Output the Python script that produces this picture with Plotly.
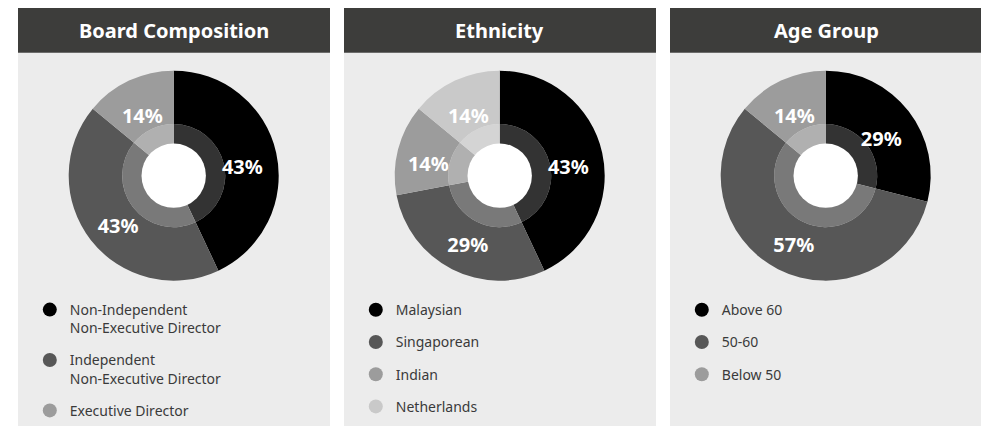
import plotly.graph_objects as go

W, H = 981, 426

# ---------------- data ----------------
titles = ["Board Composition", "Ethnicity", "Age Group"]

board_labels = ["Non-Independent<br>Non-Executive Director",
                "Independent<br>Non-Executive Director",
                "Executive Director"]
board_values = [43, 43, 14]

eth_labels = ["Malaysian", "Singaporean", "Indian", "Netherlands"]
eth_values = [43, 29, 14, 14]

age_labels = ["Above 60", "50-60", "Below 50"]
age_values = [29, 57, 14]

# ---------------- style ----------------
slice_colors = ["#000000", "#575757", "#9c9c9c", "#c9c9c9"]
header_color = "#3d3d3b"
body_color = "#ececec"
font_family = "Noto Sans"


def lighten(hexc, f=0.2):
    h = hexc.lstrip("#")
    r, g, b = (int(h[i:i + 2], 16) for i in (0, 2, 4))
    r, g, b = (round(c + f * (255 - c)) for c in (r, g, b))
    return "#%02x%02x%02x" % (r, g, b)


panels = [(board_labels, board_values), (eth_labels, eth_values), (age_labels, age_values)]
panel_lefts = [18, 344, 670]
panel_w = 312
header_top, header_bot = 8, 53.3
donut_dx, donut_cy = 155.7, 177.3
R_out, R_ring, R_hole = 106, 52, 32.5
label_hole = 0.34          # places slice labels at r ~ 71 px, as in the reference
label_dy = 6.5             # labels sit slightly low in the reference
legend_top = 297


def px(x):
    return x / W


def py(y):
    return 1 - y / H


def dom(cx, cy, r):
    return dict(x=[px(cx - r), px(cx + r)], y=[py(cy + r), py(cy - r)])


fig = go.Figure()
shapes = []
annotations = []
layout_legends = {}

for i, ((labels, values), left) in enumerate(zip(panels, panel_lefts)):
    cx = left + donut_dx
    cy = donut_cy
    cols = slice_colors[:len(values)]
    inner_cols = [lighten(c) for c in cols]

    shapes.append(dict(type="rect", xref="paper", yref="paper", layer="below",
                       x0=px(left), x1=px(left + panel_w), y0=py(H + 5), y1=py(header_bot),
                       fillcolor=body_color, line=dict(width=0)))
    shapes.append(dict(type="rect", xref="paper", yref="paper", layer="below",
                       x0=px(left), x1=px(left + panel_w), y0=py(header_bot), y1=py(header_top),
                       fillcolor=header_color, line=dict(width=0)))
    annotations.append(dict(text="<b>%s</b>" % titles[i], xref="paper", yref="paper",
                            x=px(left + panel_w / 2), y=py((header_top + header_bot) / 2),
                            xanchor="center", yanchor="middle", showarrow=False,
                            font=dict(family=font_family, size=20, color="white")))

    common = dict(values=values, labels=labels, sort=False, direction="clockwise",
                  rotation=0, showlegend=False)
    # inner lighter ring
    fig.add_trace(go.Pie(**common, hole=0, domain=dom(cx, cy, R_ring),
                         marker=dict(colors=inner_cols, line=dict(width=0)),
                         textinfo="none", hoverinfo="skip"))
    # white centre
    fig.add_trace(go.Pie(values=[1], labels=["centre"], sort=False, hole=0,
                         domain=dom(cx, cy, R_hole),
                         marker=dict(colors=["#ffffff"], line=dict(width=0)),
                         textinfo="none", hoverinfo="skip", showlegend=False))
    # outer ring
    fig.add_trace(go.Pie(**common, hole=R_ring / R_out, domain=dom(cx, cy, R_out),
                         marker=dict(colors=cols, line=dict(width=0)),
                         textinfo="none", hoverinfo="label+value"))
    # transparent label layer (text on top of both rings)
    fig.add_trace(go.Pie(**common, hole=label_hole, domain=dom(cx, cy + label_dy, R_out),
                         marker=dict(colors=["rgba(0,0,0,0)"] * len(values), line=dict(width=0)),
                         texttemplate="<b>%{value}%</b>", textposition="inside",
                         insidetextorientation="horizontal",
                         textfont=dict(family=font_family, size=20, color="white"),
                         hoverinfo="skip"))

    lname = "legend" if i == 0 else "legend%d" % (i + 1)
    for j, (lab, col) in enumerate(zip(labels, cols)):
        fig.add_trace(go.Scatter(x=[None], y=[None], mode="markers", name=lab,
                                 marker=dict(size=14, color=col, symbol="circle"),
                                 legend=lname, legendgroup="g%d_%d" % (i, j),
                                 showlegend=True, hoverinfo="skip"))
    layout_legends[lname] = dict(x=px(left + 11.8), y=py(legend_top), xanchor="left",
                                 yanchor="top", bgcolor="rgba(0,0,0,0)", borderwidth=0,
                                 font=dict(family=font_family, size=14, color="#3a3a3a"),
                                 tracegroupgap=11, valign="top", itemclick=False,
                                 itemdoubleclick=False)

fig.update_layout(width=W, height=H, margin=dict(l=0, r=0, t=0, b=0),
                  paper_bgcolor="white", plot_bgcolor="rgba(0,0,0,0)",
                  xaxis=dict(visible=False), yaxis=dict(visible=False),
                  shapes=shapes, annotations=annotations, **layout_legends)

fig.write_html("out.html")
